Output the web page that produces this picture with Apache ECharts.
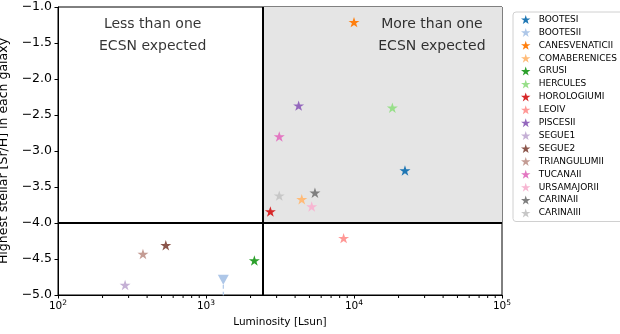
<!DOCTYPE html>
<html><head><meta charset="utf-8">
<script src="https://cdn.jsdelivr.net/npm/echarts@6/dist/echarts.min.js"></script>
<style>html,body{margin:0;padding:0;background:#fff}#c{width:620px;height:334px}</style>
</head><body><div id="c"></div>
<script>
const galaxies = ['BOOTESI','BOOTESII','CANESVENATICII','COMABERENICES','GRUSI','HERCULES','HOROLOGIUMI','LEOIV','PISCESII','SEGUE1','SEGUE2','TRIANGULUMII','TUCANAII','URSAMAJORII','CARINAII','CARINAIII'];
const luminosity = [22100, 1309, 10000, 4436, 2122, 18160, 2722, 8510, 4226, 284, 535, 375, 3126, 5178, 5446, 3126];
const srh = [-3.27, -4.76, -1.21, -3.67, -4.52, -2.40, -3.84, -4.21, -2.37, -4.86, -4.31, -4.43, -2.80, -3.77, -3.58, -3.62];
const upperLimit = [false, true, false, false, false, false, false, false, false, false, false, false, false, false, false, false];
const colors = ['#1f77b4','#aec7e8','#ff7f0e','#ffbb78','#2ca02c','#98df8a','#d62728','#ff9896','#9467bd','#c5b0d5','#8c564b','#c49c94','#e377c2','#f7b6d2','#7f7f7f','#c7c7c7'];
const xTicks = [100, 1000, 10000, 100000];
const minorTicks = [200,300,400,500,600,700,800,900,2000,3000,4000,5000,6000,7000,8000,9000,20000,30000,40000,50000,60000,70000,80000,90000];
const yTicks = [-5.0,-4.5,-4.0,-3.5,-3.0,-2.5,-2.0,-1.5,-1.0];
const lumThreshold = 2415;
const srThreshold = -4.0;
const notes = [
  {text: 'Less than one\nECSN expected', x: 436, y: -1.39},
  {text: 'More than one\nECSN expected', x: 33600, y: -1.39}
];

const star = 'path://M0,-1L0.2245,-0.309L0.951,-0.309L0.363,0.118L0.588,0.809L0,0.382L-0.588,0.809L-0.363,0.118L-0.951,-0.309L-0.2245,-0.309Z';
const font = 'DejaVu Sans';
const yMin = -5, yMax = -1;

const series = [];
series.push({
  type: 'line', data: [], silent: true, z: 1,
  markArea: {silent: true, itemStyle: {color: '#e5e5e5'}, data: [[{coord: [lumThreshold, srThreshold]}, {coord: [xTicks[3], yMax]}]]},
  markLine: {silent: true, symbol: 'none', label: {show: false}, lineStyle: {color: '#000', width: 2, type: 'solid'},
    data: [{xAxis: lumThreshold}, {yAxis: srThreshold}]}
});
// minor ticks of the log axis, drawn as tiny rects hanging below the axis line
series.push({
  type: 'scatter', silent: true, clip: false, z: 20, zlevel: 1,
  data: minorTicks.map(v => [v, yMin]),
  symbol: 'rect', symbolSize: [1, 2.6], symbolOffset: [0, 1.8],
  itemStyle: {color: '#000', opacity: 1}
});
galaxies.forEach((g, i) => {
  if (upperLimit[i]) {
    series.push({type: 'line', name: g, data: [[luminosity[i], srh[i]], [luminosity[i], -5.3]], showSymbol: false, symbol: 'none',
      lineStyle: {color: colors[i], width: 1.2, type: [4, 3]}, z: 3, legendIcon: star, color: colors[i]});
    series.push({type: 'scatter', name: g, data: [[luminosity[i], srh[i]]], symbol: 'triangle', symbolRotate: 180,
      symbolSize: [11, 10], symbolOffset: [0, 2], itemStyle: {color: colors[i], opacity: 1}, z: 4, legendIcon: star});
  } else {
    series.push({type: 'scatter', name: g, data: [[luminosity[i], srh[i]]], symbol: star, symbolSize: 11,
      symbolKeepAspect: true, itemStyle: {color: colors[i], opacity: 1}, z: 4, legendIcon: star});
  }
});
series.push({
  type: 'scatter', silent: true, symbol: 'circle', symbolSize: 1, itemStyle: {color: 'rgba(0,0,0,0)'}, z: 6,
  data: notes.map(n => ({value: [n.x, n.y]})),
  label: {show: true, position: 'inside', align: 'center', verticalAlign: 'middle',
    formatter: p => notes[p.dataIndex].text,
    fontFamily: font, fontSize: 14, lineHeight: 22, color: '#000'}
});

const chart = echarts.init(document.getElementById('c'), null, {renderer: 'canvas'});
chart.setOption({
  animation: false,
  textStyle: {fontFamily: font},
  grid: {left: 58, right: 118, top: 7, bottom: 39, show: true, borderColor: '#000', borderWidth: 1, backgroundColor: 'transparent',
    containLabel: false, outerBoundsMode: 'none'},
  xAxis: {
    type: 'log', logBase: 10, min: xTicks[0], max: xTicks[3],
    name: 'Luminosity [Lsun]', nameLocation: 'middle', nameGap: 20,
    nameTextStyle: {fontFamily: font, fontSize: 10.5, color: '#000'},
    axisLine: {lineStyle: {color: '#000', width: 1}},
    axisTick: {show: true, length: 3.5, lineStyle: {color: '#000'}},
    splitLine: {show: false},
    axisLabel: {margin: 4, color: '#000', fontFamily: font, fontSize: 10.5,
      formatter: v => xTicks.some(t => Math.abs(t - v) < 1e-6 * t) ? '10{sup|' + Math.round(Math.log10(v)) + '}' : '',
      rich: {sup: {fontSize: 7.5, fontFamily: font, color: '#000', verticalAlign: 'bottom', padding: [0, 0, 7, 0]}}}
  },
  yAxis: {
    type: 'value', min: yMin, max: yMax, interval: 0.5,
    name: 'Highest stellar [Sr/H] in each galaxy', nameLocation: 'middle', nameGap: 40,
    nameTextStyle: {fontFamily: font, fontSize: 12.5, color: '#000'},
    axisLine: {show: true, lineStyle: {color: '#000', width: 1}},
    axisTick: {show: true, length: 3.5, lineStyle: {color: '#000'}},
    splitLine: {show: false},
    axisLabel: {margin: 6, color: '#000', fontFamily: font, fontSize: 12.5,
      formatter: v => v.toFixed(1).replace('-', '\u2212')}
  },
  legend: {
    orient: 'vertical', left: 513, top: 12, data: galaxies,
    padding: [3, 20, 4, 8], itemWidth: 16, itemHeight: 9, itemGap: 3.9,
    borderColor: '#d0d0d0', borderWidth: 1, borderRadius: 3,
    icon: star,
    textStyle: {fontFamily: font, fontSize: 9, color: '#000', lineHeight: 9},
    selectedMode: false
  },
  series: series
});
</script></body></html>
